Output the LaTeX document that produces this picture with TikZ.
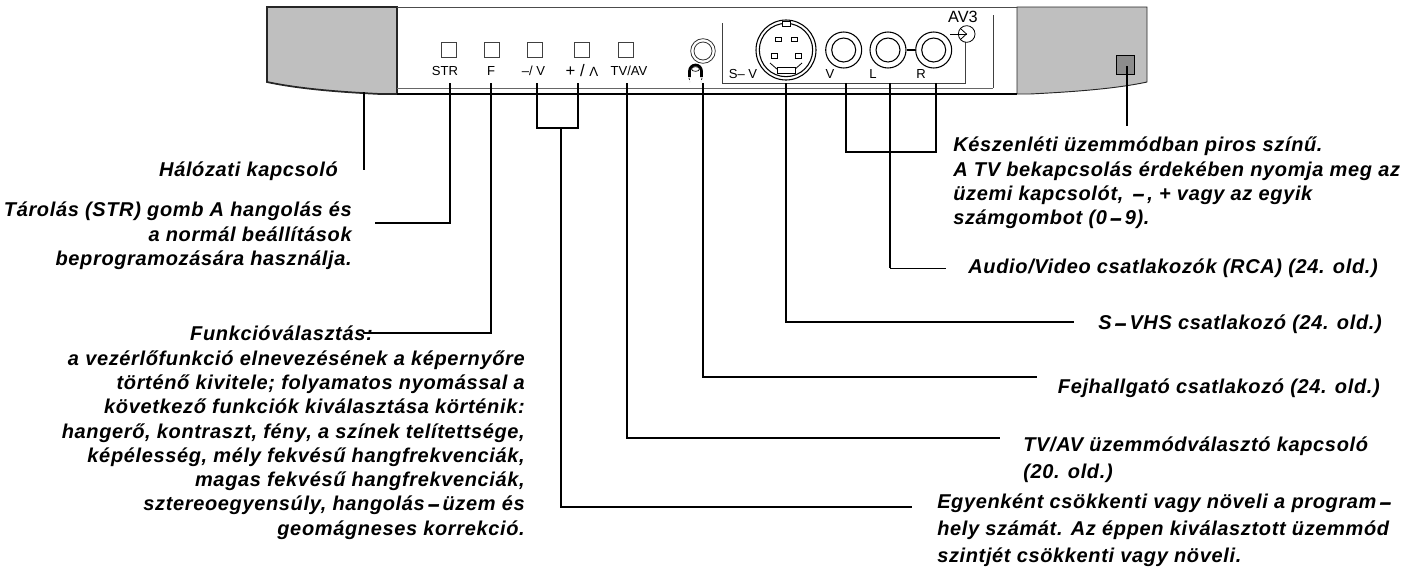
\documentclass[tikz,border=0pt]{standalone}
\usepackage{fontspec}
\usetikzlibrary{shapes.geometric}
\setmainfont{Liberation Sans}
\newfontfamily\labfont[LetterSpace=3.2,BoldItalicFont={Liberation Sans Bold Italic}]{Liberation Sans}
\newfontfamily\dashfont[FakeBold=2.5]{Liberation Sans Bold}
\newcommand{\thickdash}{{\dashfont\,–\,}}
\tikzset{
  x=0.75pt,y=-0.75pt,
  lead/.style={draw=black,line width=1.3pt,line join=miter},
  thinl/.style={draw=black!75,line width=0.6pt},
  bez/.style={draw=black!85,fill=black!25,line width=0.9pt},
  btn/.style={draw=black!75,line width=0.6pt,minimum size=11.25pt,inner sep=0pt,fill=white},
  small/.style={font=\fontsize{9.8}{10}\selectfont,inner sep=0pt,anchor=center},
  pin/.style={draw=black,line width=0.5pt,minimum width=4.5pt,minimum height=3pt,inner sep=0pt},
  ring/.style={circle,draw=black,line width=0.8pt,inner sep=0pt},
  lab/.style={font=\fontsize{15}{18.2}\selectfont\labfont\bfseries\itshape,inner sep=0pt},
  labr/.style={lab,align=right,anchor=north east},
  labl/.style={lab,align=left,anchor=north west},
}
\begin{document}
\begin{tikzpicture}
\useasboundingbox (0,0) rectangle (1421,569);
% bezel
\path[bez,line width=1.3pt] (267,7) -- (397,7) -- (397,94) -- (380,94) .. controls (340,92) and (300,89) .. (267,82) -- cycle;
\path[bez,line width=0.7pt] (1017,7) -- (1147,7) -- (1147,82) .. controls (1115,89) and (1070,92) .. (1030,94) -- (1017,94) -- cycle;
\draw[draw=black!70,line width=0.6pt] (397,7) -- (1017,7);
\draw[draw=black!60,line width=0.5pt] (397,88) -- (993,88);
\draw[draw=black,line width=1.2pt] (397,94) -- (1017,94);
% buttons
\node[btn] (bstr) at (448.5,49.5) {};
\node[btn] (bf) at (491.5,49.5) {};
\node[btn] (bm) at (534.5,49.5) {};
\node[btn] (bp) at (581.5,49.5) {};
\node[btn] (btv) at (625.5,49.5) {};
\node[small] (tstr) at (445,71) {STR};
\node[small] (tf) at (491,71) {F};
\node[small] (tm) at (533.5,71) {–/ V};
\node[small,font=\fontsize{12.5}{12}\selectfont] (tp) at (582,71) {+ / \fontsize{10}{10}\selectfont Λ};
\node[small] (ttv) at (629,71) {TV/AV};
% phone jack
\node[circle,draw=black!80,line width=0.6pt,minimum size=18.5pt,inner sep=0pt] (jack) at (703,51) {};
\node[circle,draw=black!80,line width=0.6pt,minimum size=13.5pt,inner sep=0pt] (jacki) at (703,51) {};
\draw[line width=2pt] (689.5,77) -- (689.5,71) arc[start angle=180,end angle=360,x radius=6,y radius=6] -- (701.5,77);
\draw[line width=0.5pt,dash pattern=on 1.5pt off 1.5pt] (689,78) -- (690,82) (702,78) -- (701,82);
\node[ellipse,draw=black,fill=white,line width=0.5pt,minimum width=6pt,minimum height=3.5pt,inner sep=0pt] (phead) at (695.5,69) {};
% AV panel
\draw[thinl] (722,23) -- (722,83) -- (965.5,83) -- (965.5,42);
\draw[thinl] (993,15) -- (993,88);
% S-VHS
\node[ring,minimum size=45pt] (sv) at (786,50) {};
\node[ring,minimum size=40pt] (svi) at (786,50) {};
\node[pin] at (778,39) {};
\node[pin] at (794,39) {};
\node[pin,minimum height=3.5pt] at (774,56) {};
\node[pin,minimum height=3.5pt] at (798,56) {};
\draw[line width=0.6pt] (770,63) -- (778,70) (802,63) -- (794,70);
\node[draw=black,fill=white,line width=0.6pt,minimum width=13pt,minimum height=4.5pt,inner sep=0pt] at (786.5,70) {};
\node[draw=black,fill=white,line width=0.6pt,minimum width=6pt,minimum height=4pt,inner sep=0pt] at (786,24) {};
% RCA
\foreach \n/\cx in {rv/843.7,rl/888,rr/933.7}{
  \node[ring,minimum size=27pt] (\n) at (\cx,50) {};
  \node[ring,minimum size=18pt] (\n i) at (\cx,50) {};
}
\draw[line width=1.2pt] (rl) -- (rr);
\node[small] (tsv) at (743,74) {S– V};
\node[small] (tv) at (830,74) {V};
\node[small] (tl) at (873,74) {L};
\node[small] (tr) at (921,74) {R};
\node[small,font=\fontsize{12.2}{12}\selectfont] (tav) at (963,17) {AV3};
\node[circle,draw=black,line width=0.6pt,minimum size=12.5pt,inner sep=0pt] (av) at (966.7,34) {};
\coordinate (avs) at (950,34);
\draw[line width=0.6pt] (avs) -- (av.center);
\draw[line width=0.6pt] (961,29) -- (966.5,34) -- (961,39);
% indicator
\node[draw=black,fill=black!45,line width=0.8pt,minimum size=14pt,inner sep=0pt] (led) at (1125.5,65) {};
% labels
\node[labr] (lnet) at (338,162) {Hálózati kapcsoló};
\node[labr] (lstr) at (352,202) {Tárolás (STR) gomb A hangolás és\\a normál beállítások\hspace*{5pt}\\beprogramozására használja.};
\node[labr] (lfun) at (525,326) {Funkcióválasztás:\hspace*{114pt}\\a vezérlőfunkció elnevezésének a képernyőre\\történő kivitele; folyamatos nyomással a\\következő funkciók kiválasztása körténik:\\hangerő, kontraszt, fény, a színek telítettsége,\\képélesség, mély fekvésű hangfrekvenciák,\\magas fekvésű hangfrekvenciák,\\sztereoegyensúly, hangolás\thickdash üzem és\\geomágneses korrekció.};
\node[labl] (lkesz) at (953,137) {Készenléti üzemmódban piros színű.\\A TV bekapcsolás érdekében nyomja meg az\\üzemi kapcsolót, \thickdash, + vagy az egyik\\számgombot (0\thickdash 9).};
\node[labr] (lav) at (1378,259) {Audio/Video csatlakozók (RCA) (24. old.)};
\node[labr] (lsv) at (1382,315) {S\thickdash VHS csatlakozó (24. old.)};
\node[labr] (lfej) at (1380,379) {Fejhallgató csatlakozó (24. old.)};
\node[labl,font=\fontsize{15}{19.8}\selectfont\labfont\bfseries\itshape] (ltv) at (1023,437) {TV/AV üzemmódválasztó kapcsoló\\(20. old.)};
\node[labl,font=\fontsize{15}{19.9}\selectfont\labfont\bfseries\itshape] (leg) at (937,494) {Egyenként csökkenti vagy növeli a program\thickdash\\hely számát. Az éppen kiválasztott üzemmód\\szintjét csökkenti vagy növeli.};
% connector endpoints
\coordinate (cnet1) at (364,92); \coordinate (cnet2) at (364,170);
\coordinate (cstr1) at (450,83); \coordinate (cstr2) at (375,223);
\coordinate (cf1) at (491,83); \coordinate (cf2) at (363,333);
\coordinate (cm1) at (537,83); \coordinate (cp1) at (578,83); \coordinate (cmp) at (561,128);
\coordinate (cmp2) at (912,507);
\coordinate (ctv1) at (627,83); \coordinate (ctv2) at (1000,438);
\coordinate (cj1) at (703,83); \coordinate (cj2) at (1037,377);
\coordinate (csv1) at (786,83); \coordinate (csv2) at (1074,322);
\coordinate (cv1) at (846,83); \coordinate (cr1) at (936,83); \coordinate (cl1) at (890,83);
\coordinate (cl2) at (946,268); \coordinate (cvr) at (846,152); \coordinate (clc) at (890,268);
\coordinate (cled) at (1127,66); \coordinate (cled2) at (1127,126);
\draw[lead] (cnet1) -- (cnet2);
\draw[lead] (cstr1) |- (cstr2);
\draw[lead] (cf1) |- (cf2);
\draw[lead] (cm1) |- (cmp) -| (cp1);
\draw[lead] (cmp) |- (cmp2);
\draw[lead] (ctv1) |- (ctv2);
\draw[lead] (cj1) |- (cj2);
\draw[lead] (csv1) |- (csv2);
\draw[lead] (cv1) |- (cvr) -| (cr1);
\draw[lead] (cl1) -- (clc);
\draw[lead,line width=0.7pt] (clc) -- (cl2);
\draw[lead] (cled) -- (cled2);
\end{tikzpicture}
\end{document}
